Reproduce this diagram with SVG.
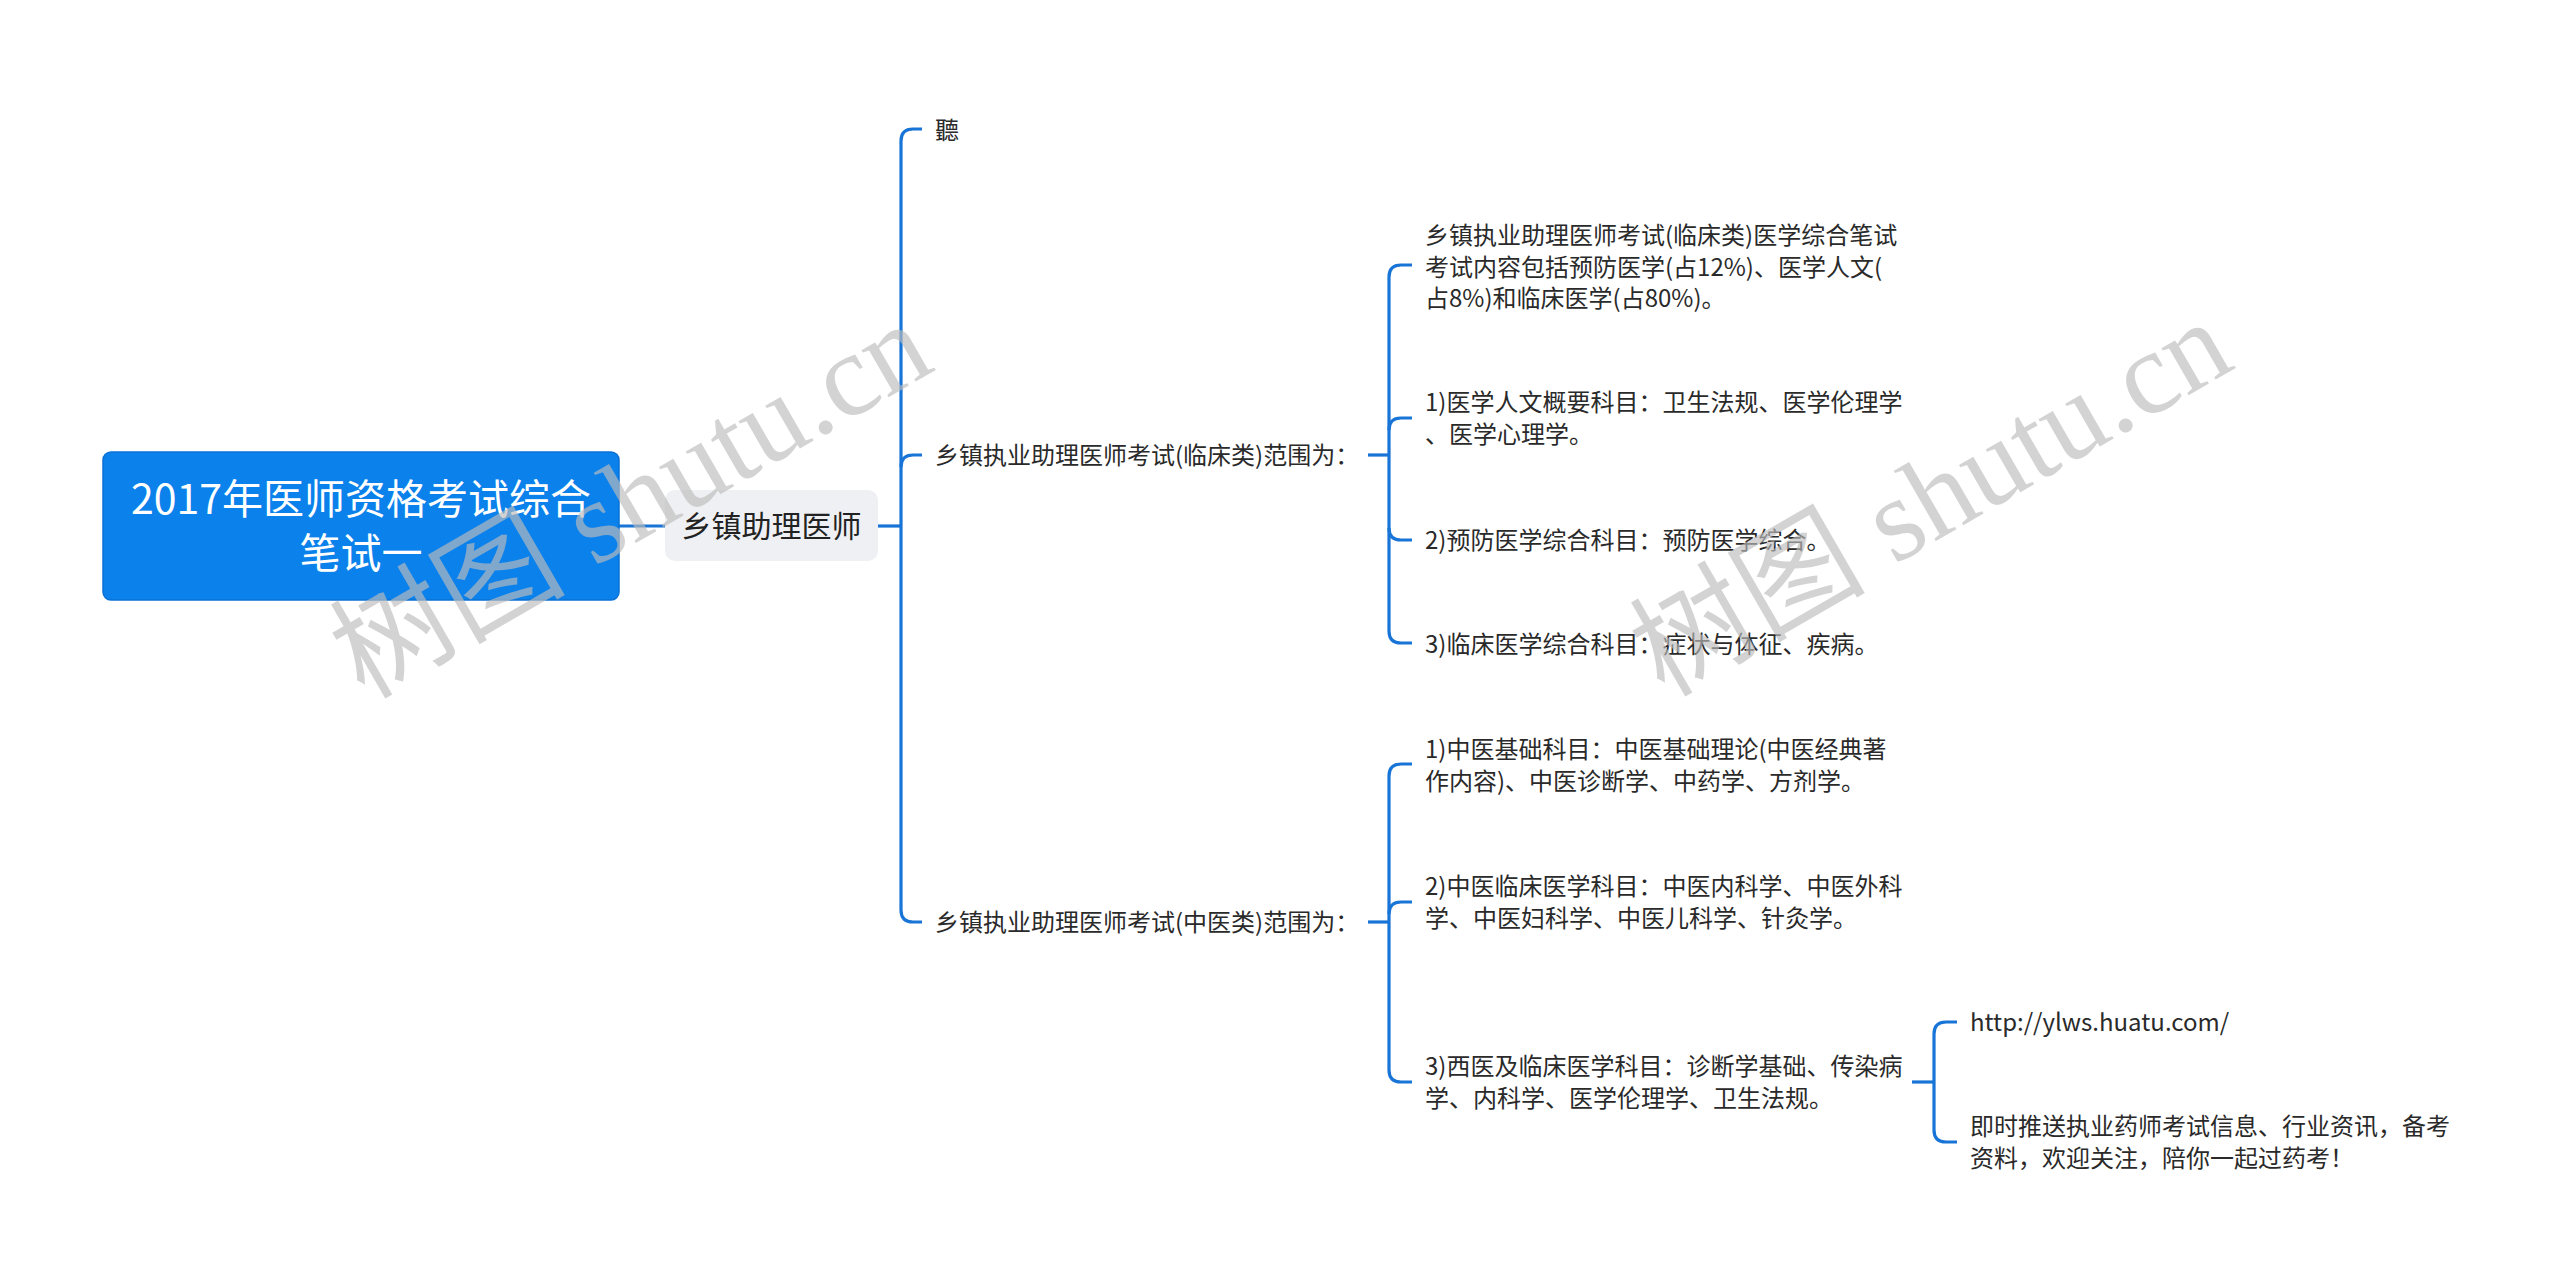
<svg xmlns="http://www.w3.org/2000/svg" width="2560" height="1287" viewBox="0 0 2560 1287">
<style>
.t{font-family:"Noto Sans CJK SC","Noto Sans",sans-serif;font-size:24px;fill:#2a2a2a}
.root{font-family:"Noto Sans CJK SC","Noto Sans",sans-serif;font-size:41px;fill:#ffffff;text-anchor:middle}
.l1{font-family:"Noto Sans CJK SC","Noto Sans",sans-serif;font-size:30px;fill:#222222;text-anchor:middle}
.c{fill:none;stroke:#1874d6;stroke-width:3.2;stroke-linecap:butt;stroke-linejoin:round}
.wm{font-family:"Liberation Serif","DejaVu Serif","Noto Sans CJK SC",serif;font-size:118px;fill:#bdbdbd;opacity:0.65}
</style>
<rect x="0" y="0" width="2560" height="1287" fill="#ffffff"/>
<g id="connectors">
<path class="c" d="M619 526 H665"/>
<path class="c" d="M878 526 H901"/>
<path class="c" d="M922 129 H913 Q901 129 901 141 V910 Q901 922 913 922 H922"/>
<path class="c" d="M901 467 Q901 455 913 455 H922"/>
<path class="c" d="M1368 455 H1389"/>
<path class="c" d="M1412 265 H1401 Q1389 265 1389 277 V631 Q1389 643 1401 643 H1412"/>
<path class="c" d="M1389 430 Q1389 418 1401 418 H1412"/>
<path class="c" d="M1389 528 Q1389 540 1401 540 H1412"/>
<path class="c" d="M1368 922 H1389"/>
<path class="c" d="M1412 764 H1401 Q1389 764 1389 776 V1070 Q1389 1082 1401 1082 H1412"/>
<path class="c" d="M1389 914 Q1389 902 1401 902 H1412"/>
<path class="c" d="M1912 1082 H1934"/>
<path class="c" d="M1957 1022 H1946 Q1934 1022 1934 1034 V1130 Q1934 1142 1946 1142 H1957"/>
</g>
<g id="root">
<rect x="103" y="452" width="516" height="148" rx="8" fill="#0b81eb" stroke="#0a72d6" stroke-width="1.5"/>
<text class="root" x="361" y="514">2017年医师资格考试综合</text>
<text class="root" x="361" y="568">笔试一</text>
</g>
<g id="n-l1">
<rect x="665" y="490" width="213" height="71" rx="10" fill="#eef0f3"/>
<text class="l1" x="771.5" y="537">乡镇助理医师</text>
</g>
<g id="n-ting"><text class="t" x="935" y="139">聽</text></g>
<g id="n-lc"><text class="t" x="935" y="464">乡镇执业助理医师考试(临床类)范围为：</text></g>
<g id="n-zy"><text class="t" x="935" y="931">乡镇执业助理医师考试(中医类)范围为：</text></g>
<g id="n-lc0">
<text class="t" x="1425" y="244">乡镇执业助理医师考试(临床类)医学综合笔试</text>
<text class="t" x="1425" y="275.5">考试内容包括预防医学(占12%)、医学人文(</text>
<text class="t" x="1425" y="307">占8%)和临床医学(占80%)。</text>
</g>
<g id="n-lc1">
<text class="t" x="1425" y="411">1)医学人文概要科目：卫生法规、医学伦理学</text>
<text class="t" x="1425" y="442.5">、医学心理学。</text>
</g>
<g id="n-lc2"><text class="t" x="1425" y="549">2)预防医学综合科目：预防医学综合。</text></g>
<g id="n-lc3"><text class="t" x="1425" y="653">3)临床医学综合科目：症状与体征、疾病。</text></g>
<g id="n-zy1">
<text class="t" x="1425" y="758">1)中医基础科目：中医基础理论(中医经典著</text>
<text class="t" x="1425" y="789.5">作内容)、中医诊断学、中药学、方剂学。</text>
</g>
<g id="n-zy2">
<text class="t" x="1425" y="895">2)中医临床医学科目：中医内科学、中医外科</text>
<text class="t" x="1425" y="926.5">学、中医妇科学、中医儿科学、针灸学。</text>
</g>
<g id="n-zy3">
<text class="t" x="1425" y="1075">3)西医及临床医学科目：诊断学基础、传染病</text>
<text class="t" x="1425" y="1106.5">学、内科学、医学伦理学、卫生法规。</text>
</g>
<g id="n-url"><text class="t" x="1970" y="1031">http://ylws.huatu.com/</text></g>
<g id="n-push">
<text class="t" x="1970" y="1135">即时推送执业药师考试信息、行业资讯，备考</text>
<text class="t" x="1970" y="1166.5">资料，欢迎关注，陪你一起过药考！</text>
</g>
<g id="watermark">
<text class="wm" transform="translate(364,700) rotate(-30)">树图 shutu.cn</text>
<text class="wm" transform="translate(1664,698) rotate(-30)">树图 shutu.cn</text>
</g>
</svg>
